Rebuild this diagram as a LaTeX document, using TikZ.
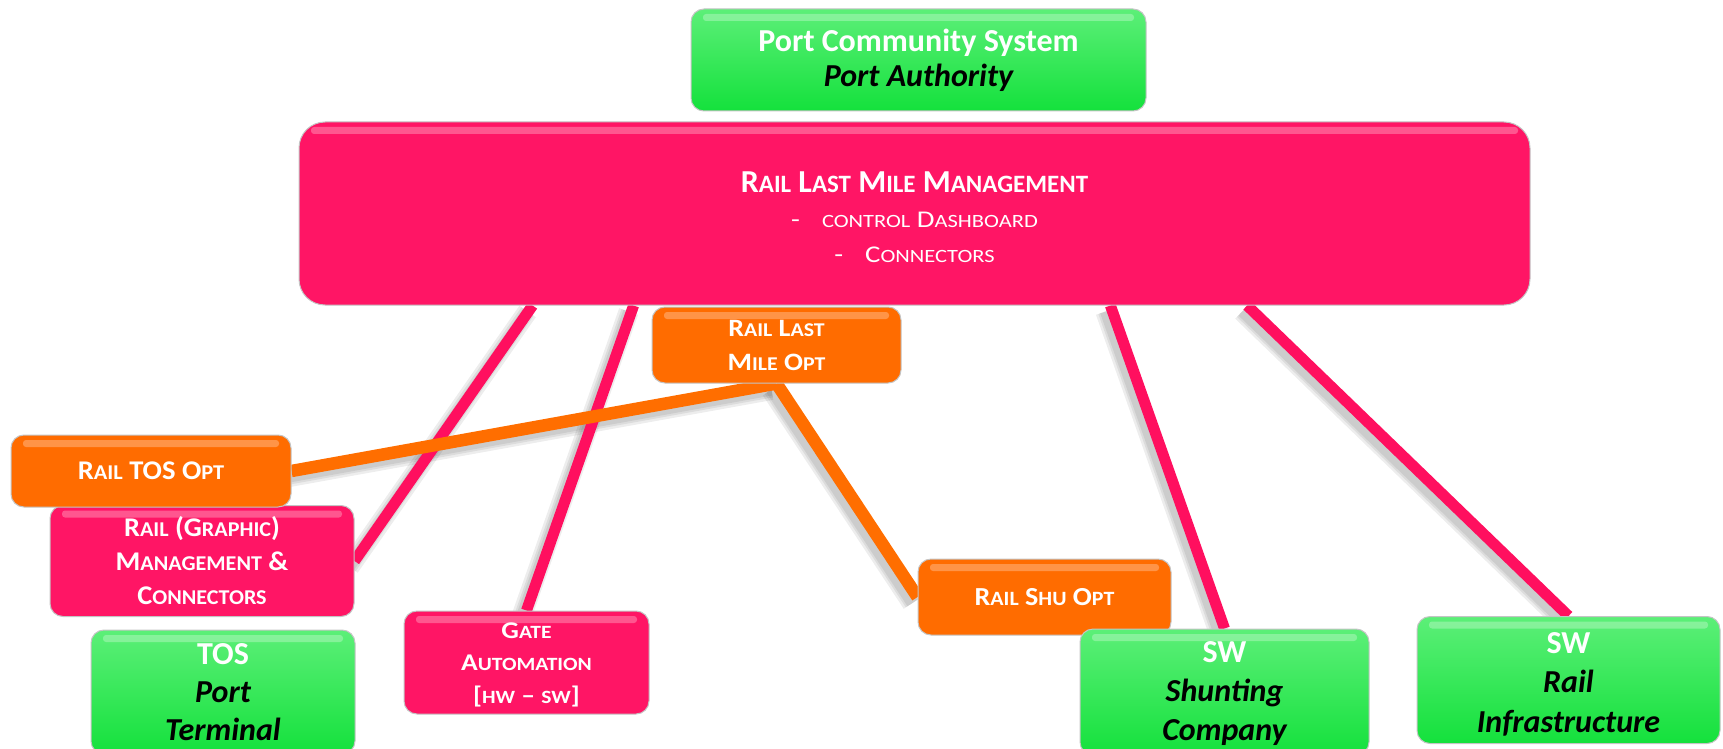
\documentclass[tikz,border=0pt]{standalone}
\usepackage{fontspec}
\setmainfont{Carlito}
\usetikzlibrary{calc,backgrounds}

\definecolor{pinkmain}{HTML}{FF1565}
\definecolor{orangemain}{HTML}{FF6C00}
\definecolor{greentop}{HTML}{5CEF78}
\definecolor{greenbot}{HTML}{14E13C}
\definecolor{edgegray}{HTML}{C4C4C4}
\definecolor{pinkline}{HTML}{FF0F5F}
\definecolor{orangeline}{HTML}{FF6E00}

% fake small capitals: reduced upper-case letters
\makeatletter
\newcommand\smc[1]{{\fontsize{\fpeval{0.78*\f@size}}{0}\selectfont #1}}
\makeatother
% horizontally widened face
\newcommand\wide[1]{\fontspec[FakeStretch=#1]{Carlito}}
\newcommand\blk[1]{{\color{black}\itshape #1}}

\tikzset{
  card/.style={rounded corners=13pt, draw=edgegray, line width=1pt,
    inner sep=0pt, align=center, text=white,
    path picture={
      \fill[white, opacity=0.28, rounded corners=3pt]
        ($(path picture bounding box.north west)+(12,5)$) rectangle
        ($(path picture bounding box.north east)+(-12,12)$);
    }},
  pinkcard/.style={card, fill=pinkmain},
  orangecard/.style={card, fill=orangemain},
  greencard/.style={card, top color=greentop, bottom color=greenbot},
  pinklink/.style={draw=pinkline, line width=11pt},
  orangelink/.style={draw=orangeline, line width=12.5pt},
  % soft shadow below-left of a connector
  linkshadow/.style={draw=black, opacity=0.07, line width=#1,
    transform canvas={shift={(-5pt,-6pt)}}},
}

% all connectors, drawn with the given styles for pink and orange links
\newcommand\connectors[2]{%
  \draw[#1] ($(rlm.south west)!0.190!(rlm.south east)$) -- (graphic.east);
  \draw[#1] ($(rlm.south west)!0.272!(rlm.south east)$) -- (gate.north);
  \draw[#1] ($(rlm.south west)!0.659!(rlm.south east)$) -- (shunt.north);
  \draw[#1] ($(rlm.south west)!0.770!(rlm.south east)$) -- (infra.north);
  \draw[#2] (rlmo.south) -- (tosopt.east);
  \draw[#2] (rlmo.south) -- (shuopt.west);
}

\begin{document}
\begin{tikzpicture}[x=1pt, y=-1pt]
\useasboundingbox (0,0) rectangle (1723,749);

% top level
\node[greencard, minimum width=455pt, minimum height=102pt,
      font=\fontsize{32}{35}\selectfont\bfseries] (pcs) at (918.5,60)
  {Port Community System\\\blk{Port Authority}};

\node[pinkcard, rounded corners=26pt, minimum width=1231pt, minimum height=183pt,
      font=\fontsize{24}{35}\selectfont] (rlm) at (914.5,213.5)
  {\begin{tabular}{@{}c@{}}
   \rule{0pt}{38.5pt}{\bfseries\fontsize{32}{35}\selectfont R\smc{AIL} L\smc{AST} M\smc{ILE} M\smc{ANAGEMENT}}\\
   {\wide{1.2}\fontsize{24}{35}\selectfont -\hspace{22pt}\smc{CONTROL} D\smc{ASHBOARD}}\\
   {\wide{1.2}\fontsize{24}{35}\selectfont -\hspace{22pt}C\smc{ONNECTORS}}
   \end{tabular}};

% pink module under the TOS optimiser
\node[pinkcard, minimum width=304pt, minimum height=111pt,
      font=\wide{1.05}\fontsize{27}{34}\selectfont\bfseries] (graphic) at (202,561)
  {R\smc{AIL} (G\smc{RAPHIC})\\M\smc{ANAGEMENT} \&\\C\smc{ONNECTORS}};

% optimisation modules
\node[orangecard, minimum width=249pt, minimum height=76pt,
      font=\wide{1.12}\fontsize{25}{34}\selectfont\bfseries] (rlmo) at (776.5,345)
  {R\smc{AIL} L\smc{AST}\\M\smc{ILE} O\smc{PT}};

\node[orangecard, minimum width=280pt, minimum height=72pt,
      font=\wide{1.06}\fontsize{27}{34}\selectfont\bfseries] (tosopt) at (151,471)
  {R\smc{AIL} TOS O\smc{PT}};

\node[orangecard, minimum width=253pt, minimum height=76pt,
      font=\wide{1.08}\fontsize{26}{34}\selectfont\bfseries] (shuopt) at (1044.5,597)
  {R\smc{AIL} S\smc{HU} O\smc{PT}};

\node[pinkcard, minimum width=245pt, minimum height=103pt,
      font=\wide{1.15}\fontsize{24}{32.5}\selectfont\bfseries] (gate) at (526.5,662.5)
  {\rule{0pt}{20.5pt}G\smc{ATE}\\A\smc{UTOMATION}\\{[}\smc{HW} – \smc{SW}]};

% actors
\node[greencard, minimum width=264pt, minimum height=124pt,
      font=\fontsize{32}{38}\selectfont\bfseries] (tos) at (223,692)
  {TOS\\\blk{Port}\\\blk{Terminal}};

\node[greencard, minimum width=289pt, minimum height=126pt,
      font=\fontsize{32}{39}\selectfont\bfseries] (shunt) at (1224.5,692)
  {\rule{0pt}{25pt}SW\\\blk{Shunting}\\\blk{Company}};

\node[greencard, minimum width=303pt, minimum height=127pt,
      font=\fontsize{32}{39.5}\selectfont\bfseries] (infra) at (1568.5,680)
  {\rule{0pt}{29pt}SW\\\blk{Rail}\\\blk{Infrastructure}};

% connectors, behind the boxes
\begin{scope}[on background layer]
  \connectors{linkshadow=20pt}{linkshadow=21pt}
  \connectors{linkshadow=15pt}{linkshadow=16pt}
  \connectors{linkshadow=11pt}{linkshadow=12pt}
  \connectors{pinklink}{orangelink}
\end{scope}
\end{tikzpicture}
\end{document}
